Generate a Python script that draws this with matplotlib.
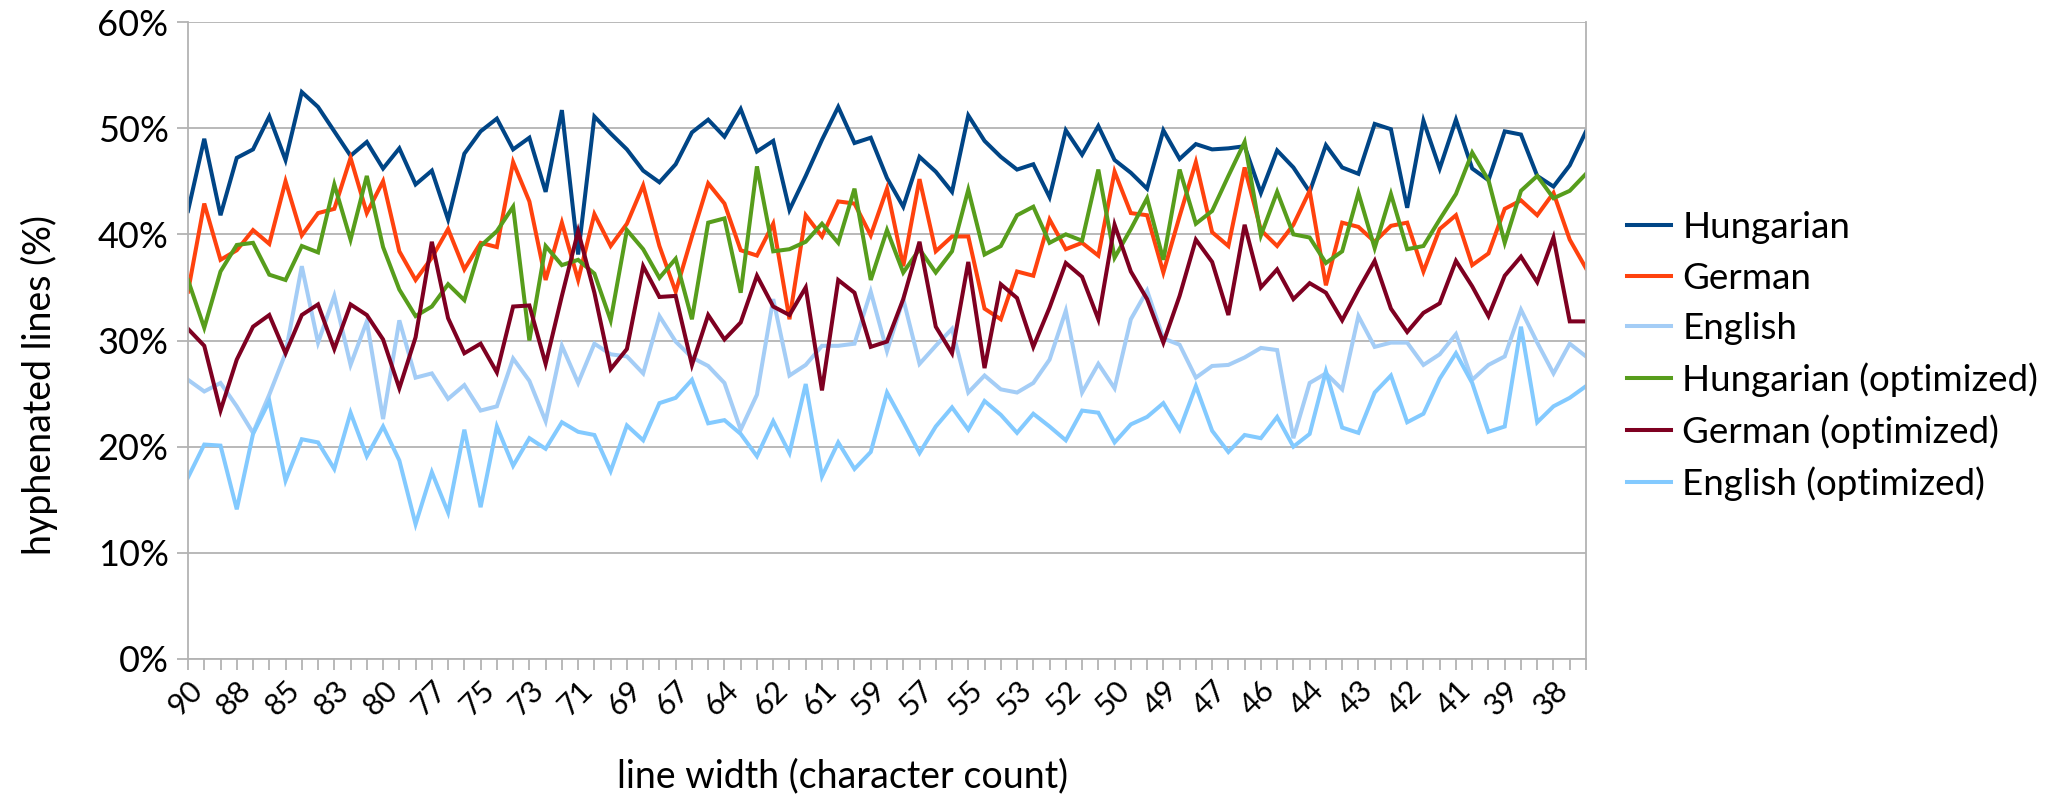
import numpy as np
import matplotlib.pyplot as plt
from matplotlib.ticker import PercentFormatter

plt.rcParams['font.family'] = ['Lato', 'DejaVu Sans']

# line width labels shown on the axis (every third category)
width_labels = [90, 88, 85, 83, 80, 77, 75, 73, 71, 69, 67, 64, 62, 61, 59,
                57, 55, 53, 52, 50, 49, 47, 46, 44, 43, 42, 41, 39, 38]

hungarian = [42.2, 49.0, 41.8, 47.2, 48.0, 51.1, 47.0, 53.4, 52.0, 49.7, 47.4, 48.7, 46.2,
             48.1, 44.7, 46.0, 41.4, 47.6, 49.7, 50.9, 48.0, 49.1, 44.0, 51.7, 38.1, 51.1,
             49.5, 48.0, 46.0, 44.9, 46.6, 49.6, 50.8, 49.2, 51.8, 47.8, 48.8, 42.3,
             45.5, 48.9, 52.0, 48.6, 49.1, 45.3, 42.6, 47.3, 45.9, 44.0, 51.2, 48.8,
             47.3, 46.1, 46.6, 43.5, 49.8, 47.5, 50.2, 47.0, 45.8, 44.3, 49.8, 47.1,
             48.5, 48.0, 48.1, 48.3, 43.9, 47.9, 46.3, 44.0, 48.4, 46.3, 45.7, 50.4, 49.9,
             42.5, 50.7, 46.2, 50.8, 46.2, 45.1, 49.7, 49.4, 45.5, 44.5, 46.5, 49.7]

german = [34.6, 42.9, 37.6, 38.5, 40.4, 39.1, 45.0, 39.9, 42.0, 42.4, 47.2, 42.0, 45.0,
          38.4, 35.7, 37.8, 40.5, 36.7, 39.2, 38.8, 46.8, 43.1, 35.7, 41.1, 35.7, 41.9,
          38.9, 41.0, 44.6, 38.9, 34.6, 39.8, 44.8, 42.9, 38.5, 38.0, 41.0, 32.0,
          41.8, 39.8, 43.1, 42.9, 39.9, 44.3, 37.0, 45.2, 38.4, 39.8, 39.8, 33.0,
          32.0, 36.5, 36.1, 41.4, 38.6, 39.2, 38.0, 45.9, 42.0, 41.8, 36.4, 41.7,
          46.8, 40.2, 38.9, 46.3, 40.4, 38.9, 40.9, 44.1, 35.2, 41.1, 40.7, 39.3, 40.8,
          41.1, 36.5, 40.5, 41.8, 37.1, 38.2, 42.4, 43.2, 41.8, 43.9, 39.5, 36.8]

english = [26.3, 25.2, 26.0, 23.8, 21.3, 24.9, 28.8, 37.0, 29.8, 34.2, 27.7, 31.8, 22.6,
           31.9, 26.5, 26.9, 24.5, 25.8, 23.4, 23.8, 28.3, 26.2, 22.4, 29.5, 26.0, 29.7,
           28.7, 28.5, 26.9, 32.3, 29.9, 28.4, 27.6, 26.0, 21.6, 24.9, 33.9, 26.7,
           27.7, 29.5, 29.5, 29.7, 34.6, 29.0, 33.9, 27.8, 29.5, 31.1, 25.1, 26.7,
           25.4, 25.1, 26.0, 28.2, 32.8, 25.1, 27.8, 25.5, 32.0, 34.7, 30.2, 29.6,
           26.5, 27.6, 27.7, 28.4, 29.3, 29.1, 20.8, 26.0, 26.9, 25.4, 32.3, 29.4, 29.8,
           29.8, 27.7, 28.7, 30.6, 26.3, 27.7, 28.5, 32.9, 29.8, 26.9, 29.7, 28.5]

hungarian_opt = [35.7, 31.2, 36.5, 39.0, 39.2, 36.2, 35.7, 38.9, 38.3, 44.7, 39.5, 45.5, 38.8,
                 34.8, 32.3, 33.2, 35.3, 33.8, 38.9, 40.3, 42.6, 30.0, 38.9, 37.1, 37.6, 36.3,
                 31.9, 40.4, 38.6, 35.9, 37.7, 32.0, 41.1, 41.5, 34.5, 46.4, 38.4, 38.6,
                 39.3, 41.0, 39.2, 44.3, 35.7, 40.4, 36.4, 38.6, 36.4, 38.4, 44.2, 38.1,
                 38.9, 41.8, 42.6, 39.2, 40.0, 39.4, 46.1, 37.8, 40.5, 43.4, 37.6, 46.1,
                 41.0, 42.2, 45.5, 48.7, 39.9, 44.0, 40.0, 39.7, 37.3, 38.4, 43.9, 38.7, 43.8,
                 38.6, 38.9, 41.4, 43.8, 47.7, 45.1, 39.2, 44.1, 45.5, 43.4, 44.1, 45.7]

german_opt = [31.1, 29.5, 23.4, 28.2, 31.3, 32.4, 28.8, 32.4, 33.4, 29.2, 33.4, 32.4, 30.1,
              25.5, 30.3, 39.3, 32.1, 28.8, 29.7, 27.0, 33.2, 33.3, 27.8, 34.2, 40.3, 34.5,
              27.3, 29.2, 37.0, 34.1, 34.2, 27.7, 32.4, 30.1, 31.7, 36.1, 33.2, 32.4,
              35.0, 25.3, 35.7, 34.5, 29.4, 29.9, 33.9, 39.3, 31.3, 28.8, 37.4, 27.4,
              35.3, 34.0, 29.4, 33.1, 37.3, 36.0, 32.0, 40.9, 36.5, 33.9, 29.8, 34.2,
              39.5, 37.4, 32.4, 40.9, 35.0, 36.7, 33.9, 35.4, 34.5, 31.9, 34.8, 37.5, 33.0,
              30.8, 32.6, 33.5, 37.5, 35.1, 32.3, 36.1, 37.9, 35.5, 39.7, 31.8, 31.8]

english_opt = [17.1, 20.2, 20.1, 14.1, 21.2, 24.3, 16.8, 20.7, 20.4, 17.9, 23.2, 19.1, 21.9,
               18.7, 12.7, 17.6, 13.8, 21.6, 14.3, 21.9, 18.2, 20.8, 19.8, 22.3, 21.4, 21.1,
               17.7, 22.0, 20.6, 24.1, 24.6, 26.3, 22.2, 22.5, 21.2, 19.1, 22.4, 19.4,
               25.9, 17.2, 20.4, 17.9, 19.5, 25.1, 22.3, 19.4, 21.9, 23.7, 21.6, 24.3,
               23.0, 21.3, 23.1, 21.9, 20.6, 23.4, 23.2, 20.4, 22.1, 22.8, 24.1, 21.6,
               25.7, 21.5, 19.5, 21.1, 20.8, 22.8, 20.0, 21.2, 27.1, 21.8, 21.3, 25.1, 26.7,
               22.3, 23.1, 26.4, 28.8, 26.0, 21.4, 21.9, 31.3, 22.3, 23.8, 24.6, 25.7]

series = [
    ("Hungarian", hungarian, "#004586"),
    ("German", german, "#ff420e"),
    ("English", english, "#a4cdf6"),
    ("Hungarian (optimized)", hungarian_opt, "#579d1c"),
    ("German (optimized)", german_opt, "#7e0021"),
    ("English (optimized)", english_opt, "#83caff"),
]

n = len(hungarian)
x = np.arange(n)

fig = plt.figure(figsize=(20.55, 7.96), dpi=100)
ax = fig.add_axes([188 / 2055, 1 - 659 / 796, (1586 - 188) / 2055, (659 - 22) / 796])

for label, vals, color in series:
    ax.plot(x, vals, color=color, lw=2.9, label=label, solid_joinstyle="miter")

grid_c = "#b3b3b3"
ax.set_xlim(0, n - 1)
ax.set_ylim(0, 60)
ax.set_yticks(np.arange(0, 61, 10))
ax.yaxis.set_major_formatter(PercentFormatter(decimals=0))
ax.yaxis.grid(True, color=grid_c, lw=1.3)
ax.set_axisbelow(True)

full_labels = [""] * n
for k, w in enumerate(width_labels):
    full_labels[3 * k] = str(w)
ax.set_xticks(x)
ax.set_xticklabels(full_labels, rotation=45, ha="right", rotation_mode="anchor", fontsize=22)

for s in ax.spines.values():
    s.set_color(grid_c)
    s.set_linewidth(1.3)
ax.spines["top"].set_visible(False)
ax.tick_params(axis="both", colors=grid_c, length=8, width=1.3, labelcolor="black")
ax.tick_params(axis="y", labelsize=26, pad=6)
ax.tick_params(axis="x", pad=4)

fig.text(39 / 2055, 1 - 385 / 796, "hyphenated lines (%)", fontsize=27,
         rotation=90, ha="center", va="center")
fig.text(843 / 2055, 1 - 776 / 796, "line width (character count)", fontsize=27,
         ha="center", va="center")

fig.legend(loc="center left", bbox_to_anchor=(1627 / 2055, 1 - 356 / 796),
           frameon=False, fontsize=26.5, handlelength=1.2, handletextpad=0.3,
           labelspacing=0.47, borderpad=0, borderaxespad=0)

fig.savefig("out.png", dpi=100)
